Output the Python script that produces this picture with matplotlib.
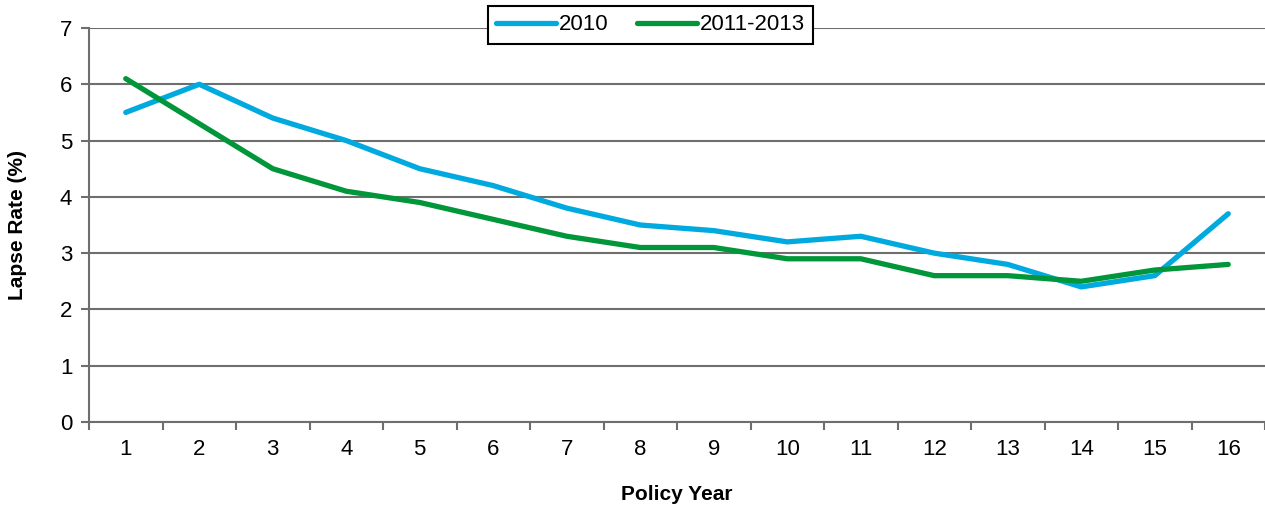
import matplotlib.pyplot as plt
import numpy as np

plt.rcParams['font.family'] = ['Liberation Sans', 'DejaVu Sans']

policy_years = [str(i) for i in range(1, 17)]
lapse_2010 = [5.5, 6.0, 5.4, 5.0, 4.5, 4.2, 3.8, 3.5, 3.4, 3.2, 3.3, 3.0, 2.8, 2.4, 2.6, 3.7]
lapse_2011_2013 = [6.1, 5.3, 4.5, 4.1, 3.9, 3.6, 3.3, 3.1, 3.1, 2.9, 2.9, 2.6, 2.6, 2.5, 2.7, 2.8]

fig = plt.figure(figsize=(12.65, 5.12), dpi=100)
ax = fig.add_axes([89 / 1265, 90 / 512, 1176 / 1265, 394 / 512])

x = np.arange(len(policy_years))
ax.plot(x, lapse_2010, color='#00AADF', lw=3.8, label='2010', solid_capstyle='round')
ax.plot(x, lapse_2011_2013, color='#009639', lw=3.8, label='2011-2013', solid_capstyle='round')

ax.set_xlim(-0.5, len(policy_years) - 0.5)
ax.set_ylim(0, 7)
ax.set_yticks(range(0, 8))
ax.set_xticks(np.arange(-0.5, len(policy_years), 1.0))
ax.set_xticklabels([])
ax.set_xticks(x, minor=True)
ax.set_xticklabels(policy_years, minor=True)
ax.tick_params(axis='x', which='minor', length=0, pad=12, labelsize=16)
ax.tick_params(axis='x', which='major', length=6, width=1.5, color='#6e6e6e', direction='out')
ax.tick_params(axis='y', length=6, width=1.5, color='#6e6e6e', labelsize=16, pad=6)

ax.grid(axis='y', color='#6e6e6e', lw=1.5)
ax.set_axisbelow(True)
for s in ['top', 'right']:
    ax.spines[s].set_visible(False)
for s in ['left', 'bottom']:
    ax.spines[s].set_color('#6e6e6e')
    ax.spines[s].set_linewidth(1.5)

ax.set_xlabel('Policy Year', fontsize=15, fontweight='bold', labelpad=18)
ax.set_ylabel('Lapse Rate (%)', fontsize=15, fontweight='bold', labelpad=24)

leg = ax.legend(loc='center', bbox_to_anchor=(650.5 / 1265, 1 - 25 / 512), bbox_transform=fig.transFigure,
                ncol=2, frameon=True, fancybox=False, fontsize=16, handlelength=2.7,
                handletextpad=0.1, columnspacing=1.3, borderpad=0.4, borderaxespad=0)
leg.get_frame().set_edgecolor('black')
leg.get_frame().set_linewidth(1.5)
leg.get_frame().set_alpha(1)

fig.savefig('out.png', dpi=100)
